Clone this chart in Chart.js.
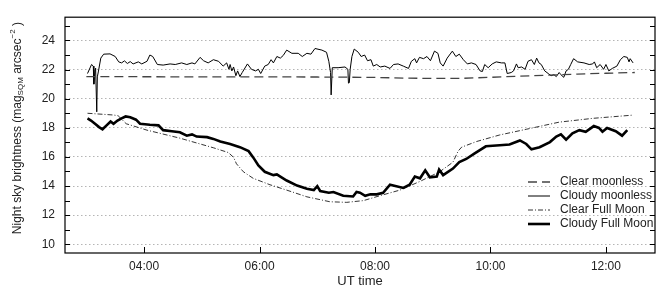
<!DOCTYPE html>
<html>
<head>
<meta charset="utf-8">
<script src="https://cdn.jsdelivr.net/npm/chart.js@4.4.1/dist/chart.umd.min.js"></script>
<style>
  html, body { margin: 0; padding: 0; background: #fff; }
</style>
</head>
<body>
<canvas id="skyChart" width="663" height="289"></canvas>
<script>
// time axis in decimal UT hours
const xTicks = [4, 6, 8, 10, 12];
const yTicks = [10, 12, 14, 16, 18, 20, 22, 24];

const clearMoonlessT = [3.0, 4.0, 5.0, 6.0, 7.0, 7.5, 8.0, 8.5, 9.0, 9.5, 10.0, 10.5, 11.0, 11.5, 12.0, 12.5];
const clearMoonlessV = [21.52, 21.51, 21.5, 21.5, 21.49, 21.48, 21.46, 21.42, 21.39, 21.4, 21.47, 21.55, 21.62, 21.69, 21.75, 21.8];

const cloudyMoonlessT = [3.02, 3.09, 3.12, 3.13, 3.15, 3.16, 3.18, 3.19, 3.21, 3.25, 3.30, 3.41, 3.50, 3.56, 3.61, 3.66, 3.71, 3.76, 3.81, 3.90,
  3.96, 4.05, 4.10, 4.15, 4.23, 4.33, 4.45, 4.54, 4.65, 4.74, 4.83, 4.88, 4.97, 5.03, 5.11, 5.20, 5.29, 5.37, 5.43, 5.47,
  5.49, 5.52, 5.55, 5.59, 5.62, 5.66, 5.70, 5.79, 5.86, 5.93, 5.98, 6.02, 6.09, 6.15, 6.20, 6.24, 6.30, 6.36, 6.41, 6.47,
  6.56, 6.67, 6.74, 6.82, 6.89, 6.96, 7.08, 7.16, 7.20, 7.23, 7.24, 7.26, 7.36, 7.48, 7.53, 7.54, 7.555, 7.57, 7.60, 7.64,
  7.71, 7.76, 7.82, 7.87, 7.93, 7.97, 8.03, 8.09, 8.17, 8.26, 8.32, 8.40, 8.49, 8.58, 8.63, 8.69, 8.72, 8.77, 8.84, 8.90,
  8.96, 9.03, 9.09, 9.13, 9.18, 9.25, 9.34, 9.40, 9.46, 9.53, 9.60, 9.67, 9.75, 9.82, 9.86, 9.90, 9.96, 10.03, 10.10, 10.19,
  10.25, 10.29, 10.36, 10.40, 10.45, 10.48, 10.54, 10.60, 10.65, 10.71, 10.76, 10.80, 10.84, 10.88, 10.94, 11.00, 11.05, 11.10, 11.14, 11.19,
  11.22, 11.27, 11.31, 11.35, 11.39, 11.44, 11.51, 11.62, 11.71, 11.77, 11.80, 11.84, 11.90, 11.96, 12.00, 12.05, 12.11, 12.19, 12.25, 12.31,
  12.37, 12.40, 12.42, 12.47];
const cloudyMoonlessV = [21.73, 22.35, 22.24, 21.0, 22.0, 22.1, 19.1, 21.5, 21.9, 22.79, 23.06, 23.08, 22.9, 22.53, 22.46, 22.6, 22.42, 22.55, 22.39, 22.53,
  22.39, 22.57, 23.0, 22.9, 22.35, 22.31, 22.39, 22.35, 22.46, 22.35, 22.46, 22.39, 22.84, 22.61, 22.46, 22.68, 22.57, 22.24, 22.46, 22.02,
  22.35, 21.91, 22.18, 21.58, 21.91, 21.52, 21.8, 22.39, 22.02, 21.91, 22.02, 21.73, 22.24, 22.35, 22.68, 22.46, 22.9, 22.79, 22.97, 23.34,
  23.12, 23.12, 22.9, 23.12, 23.06, 23.45, 23.34, 23.19, 22.57, 21.8, 20.26, 22.13, 22.13, 22.18, 22.02, 21.07, 21.1, 22.02, 22.9, 23.41,
  23.19, 22.9, 23.0, 22.61, 22.68, 22.24, 22.35, 22.18, 22.24, 22.08, 22.35, 22.39, 22.24, 22.08, 22.57, 22.75, 22.46, 22.84, 22.75, 22.9,
  22.61, 23.27, 23.12, 22.46, 22.24, 22.79, 23.27, 22.9, 23.06, 22.68, 22.39, 22.46, 22.35, 21.91, 21.87, 22.35, 22.13, 22.39, 22.53, 22.46,
  22.46, 21.73, 21.8, 21.91, 22.39, 22.13, 22.18, 22.02, 22.57, 22.68, 22.35, 22.79, 22.46, 22.35, 21.91, 21.73, 21.58, 21.65, 21.52, 21.8,
  21.65, 21.47, 21.91, 22.02, 22.35, 22.75, 22.53, 22.46, 22.35, 22.39, 22.53, 22.13, 22.35, 22.02, 22.35, 21.91, 22.08, 22.24, 22.68, 22.9,
  22.84, 22.53, 22.75, 22.46];

const clearFullT = [3.02, 3.47, 3.55, 3.69, 4.05, 4.62, 4.91, 5.20, 5.46, 5.55, 5.60, 5.72, 5.89, 6.18, 6.47, 6.82, 7.22, 7.51, 7.80, 8.08,
  8.43, 8.78, 9.12, 9.35, 9.44, 9.50, 9.76, 10.16, 10.62, 11.19, 11.77, 12.46];
const clearFullV = [19.0, 18.88, 18.83, 18.28, 17.84, 17.29, 16.96, 16.63, 16.3, 15.97, 15.53, 14.98, 14.53, 14.09, 13.72, 13.26, 12.92, 12.88, 13.0, 13.33,
  13.72, 14.32, 14.98, 15.64, 16.4, 16.67, 17.06, 17.51, 17.9, 18.39, 18.65, 18.87];

const cloudyFullT = [3.02, 3.08, 3.15, 3.22, 3.28, 3.35, 3.42, 3.47, 3.54, 3.61, 3.68, 3.76, 3.86, 3.93, 4.10, 4.25, 4.33, 4.48, 4.62, 4.74,
  4.83, 4.91, 5.09, 5.20, 5.32, 5.49, 5.66, 5.81, 5.89, 5.98, 6.09, 6.24, 6.30, 6.36, 6.47, 6.65, 6.82, 6.94, 7.00, 7.05,
  7.20, 7.28, 7.45, 7.62, 7.68, 7.74, 7.83, 7.92, 8.03, 8.14, 8.26, 8.37, 8.49, 8.60, 8.69, 8.78, 8.87, 8.95, 9.07, 9.11,
  9.18, 9.35, 9.46, 9.58, 9.72, 9.92, 10.16, 10.33, 10.51, 10.62, 10.71, 10.85, 11.03, 11.14, 11.22, 11.31, 11.42, 11.54, 11.65, 11.79,
  11.88, 11.94, 12.02, 12.17, 12.28, 12.37];
const cloudyFullV = [18.65, 18.5, 18.28, 18.05, 17.9, 18.17, 18.43, 18.28, 18.5, 18.65, 18.78, 18.72, 18.56, 18.28, 18.21, 18.17, 17.84, 17.77, 17.69, 17.46,
  17.55, 17.4, 17.36, 17.24, 17.06, 16.89, 16.67, 16.4, 15.97, 15.41, 14.98, 14.75, 14.8, 14.65, 14.38, 14.03, 13.81, 13.72, 13.99, 13.66,
  13.54, 13.59, 13.33, 13.28, 13.59, 13.54, 13.33, 13.43, 13.43, 13.54, 14.09, 13.99, 13.87, 14.09, 14.65, 14.53, 15.08, 14.6, 14.65, 15.13,
  14.75, 15.2, 15.64, 15.86, 16.23, 16.73, 16.8, 16.85, 17.13, 16.89, 16.52, 16.67, 17.02, 17.4, 17.55, 17.18, 17.62, 17.84, 17.73, 18.12,
  17.99, 17.73, 17.99, 17.77, 17.46, 17.84];

const seriesLabels = ['Clear moonless', 'Cloudy moonless', 'Clear Full Moon', 'Cloudy Full Moon'];

function pairs(t, v) {
  return t.map((x, i) => ({ x: x, y: v[i] }));
}

const textColor = '#222';
const fontFamily = '"Liberation Sans", Arial, Helvetica, sans-serif';

const framePlugin = {
  id: 'frame',
  afterDatasetsDraw(chart) {
    const { ctx, chartArea: a, scales: { x, y } } = chart;
    ctx.save();
    // box round the plot
    ctx.strokeStyle = '#000';
    ctx.lineWidth = 1.2;
    ctx.strokeRect(a.left, a.top, a.right - a.left, a.bottom - a.top);
    // inward tick marks
    ctx.lineWidth = 1;
    ctx.beginPath();
    xTicks.forEach(v => {
      const px = Math.round(x.getPixelForValue(v)) + 0.5;
      ctx.moveTo(px, a.bottom);
      ctx.lineTo(px, a.bottom - 6);
    });
    for (let v = 10; v <= 25; v++) {
      const py = Math.round(y.getPixelForValue(v)) + 0.5;
      ctx.moveTo(a.left, py);
      ctx.lineTo(a.left + 5, py);
      ctx.moveTo(a.right, py);
      ctx.lineTo(a.right - 5, py);
    }
    ctx.stroke();

    // legend, bottom right inside the plot
    ctx.font = '12px ' + fontFamily;
    ctx.textBaseline = 'middle';
    ctx.textAlign = 'left';
    chart.data.datasets.forEach((ds, i) => {
      const ly = a.bottom - 71 + i * 14;
      ctx.strokeStyle = ds.borderColor;
      ctx.lineWidth = ds.borderWidth;
      ctx.setLineDash(ds.borderDash || []);
      ctx.beginPath();
      ctx.moveTo(a.right - 127, ly);
      ctx.lineTo(a.right - 105, ly);
      ctx.stroke();
      ctx.setLineDash([]);
      ctx.fillStyle = textColor;
      ctx.fillText(ds.label, a.right - 95, ly);
    });

    // y axis title with sub/superscript
    const pieces = [
      ['Night sky brightness (mag', 12, 0],
      ['SQM', 8, 3],
      [' arcsec', 12, 0],
      ['\u22122', 8, -5],
      [' )', 12, 0]
    ];
    let total = 0;
    pieces.forEach(p => { ctx.font = p[1] + 'px ' + fontFamily; total += ctx.measureText(p[0]).width; });
    ctx.translate(18, (a.top + a.bottom) / 2 - 7);
    ctx.rotate(-Math.PI / 2);
    ctx.textBaseline = 'middle';
    let cx = -total / 2;
    pieces.forEach(p => {
      ctx.font = p[1] + 'px ' + fontFamily;
      ctx.fillText(p[0], cx, p[2]);
      cx += ctx.measureText(p[0]).width;
    });
    ctx.restore();
  }
};

const ctx = document.getElementById('skyChart').getContext('2d');

new Chart(ctx, {
  type: 'line',
  data: {
    datasets: [
      {
        label: seriesLabels[0],
        data: pairs(clearMoonlessT, clearMoonlessV),
        borderColor: '#444',
        borderWidth: 1.3,
        borderDash: [9, 5]
      },
      {
        label: seriesLabels[1],
        data: pairs(cloudyMoonlessT, cloudyMoonlessV),
        borderColor: '#000',
        borderWidth: 1
      },
      {
        label: seriesLabels[2],
        data: pairs(clearFullT, clearFullV),
        borderColor: '#000',
        borderWidth: 0.8,
        borderDash: [5, 2, 1, 2]
      },
      {
        label: seriesLabels[3],
        data: pairs(cloudyFullT, cloudyFullV),
        borderColor: '#000',
        borderWidth: 2.6
      }
    ]
  },
  options: {
    responsive: false,
    animation: false,
    layout: { padding: { top: 7, right: 8, left: 0, bottom: 0 } },
    elements: { point: { radius: 0 }, line: { tension: 0 } },
    plugins: { legend: { display: false }, tooltip: { enabled: false } },
    scales: {
      x: {
        type: 'linear',
        min: 2.63,
        max: 12.85,
        afterBuildTicks: s => { s.ticks = xTicks.map(v => ({ value: v })); },
        afterFit: s => { s.height = 36; },
        grid: { display: false, drawTicks: false },
        border: { display: false },
        ticks: {
          padding: 6,
          maxRotation: 0,
          color: textColor,
          font: { size: 12, family: fontFamily },
          callback: v => String(v).padStart(2, '0') + ':00'
        },
        title: {
          display: true,
          text: 'UT time',
          color: textColor,
          font: { size: 13, family: fontFamily },
          padding: { top: 0, bottom: 0 }
        }
      },
      y: {
        min: 9.4,
        max: 25.6,
        afterBuildTicks: s => { s.ticks = yTicks.map(v => ({ value: v })); },
        afterFit: s => { s.width = 65; },
        grid: { color: '#b5b5b5', lineWidth: 1, drawTicks: false },
        border: { display: false, dash: [1.5, 2.5] },
        ticks: {
          padding: 10,
          color: textColor,
          font: { size: 12, family: fontFamily }
        }
      }
    }
  },
  plugins: [framePlugin]
});
</script>
</body>
</html>
